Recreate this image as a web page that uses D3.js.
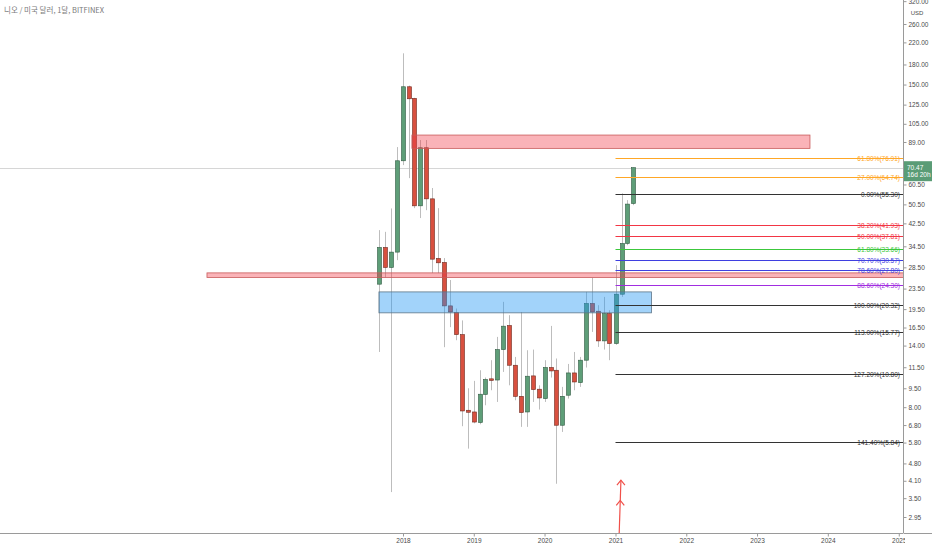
<!DOCTYPE html>
<html>
<head>
<meta charset="utf-8">
<script src="https://cdn.jsdelivr.net/npm/d3@7/dist/d3.min.js"></script>
<style>
  html, body { margin: 0; padding: 0; background: #fff; overflow: hidden; }
  svg { display: block; font-family: 'Liberation Sans', Arial, sans-serif; }
</style>
</head>
<body>
<svg id="graph" width="932" height="550"></svg>
<script>
const title = '니오 / 미국 달러, 1달, BITFINEX';

// monthly candles, Sep 2017 .. Apr 2021
const months = [
  '2017-09', '2017-10', '2017-11', '2017-12',
  '2018-01', '2018-02', '2018-03', '2018-04', '2018-05', '2018-06',
  '2018-07', '2018-08', '2018-09', '2018-10', '2018-11', '2018-12',
  '2019-01', '2019-02', '2019-03', '2019-04', '2019-05', '2019-06',
  '2019-07', '2019-08', '2019-09', '2019-10', '2019-11', '2019-12',
  '2020-01', '2020-02', '2020-03', '2020-04', '2020-05', '2020-06',
  '2020-07', '2020-08', '2020-09', '2020-10', '2020-11', '2020-12',
  '2021-01', '2021-02', '2021-03', '2021-04',
];
const opens = [
  24.46, 34.14, 28.47, 32.73,
  75.04, 147.0, 132.3, 49.84, 84.45, 53.1,
  30.9, 29.8, 20.08, 18.9, 15.47, 7.78,
  7.66, 6.96, 8.98, 10.35, 10.24, 13.5,
  16.8, 11.71, 8.83, 7.66, 10.63, 9.42,
  8.65, 11.47, 11.19, 6.79, 8.92, 10.92,
  10.0, 12.26, 20.52, 19.13, 14.61, 18.74,
  14.27, 22.33, 35.4, 50.9,
];
const highs = [
  39.97, 39.35, 48.67, 85.0,
  199.2, 148.5, 133.0, 90.6, 90.6, 58.6,
  48.8, 31.0, 25.4, 19.6, 17.6, 9.5,
  10.16, 11.19, 10.47, 12.26, 15.15, 20.83,
  18.45, 12.63, 19.0, 13.42, 13.5, 9.76,
  12.26, 16.74, 12.45, 9.62, 11.85, 13.21,
  12.63, 22.8, 25.9, 20.2, 21.79, 19.3,
  29.07, 55.8, 52.5, 70.6,
];
const lows = [
  13.21, 26.0, 3.70, 30.42,
  72.15, 64.1, 48.8, 44.6, 47.9, 27.05,
  27.05, 13.8, 16.55, 14.7, 6.73, 5.49,
  6.91, 6.85, 8.14, 9.33, 8.39, 11.02,
  9.76, 8.52, 6.69, 6.69, 8.39, 7.83,
  8.39, 10.47, 3.99, 6.39, 8.65, 9.33,
  9.62, 11.47, 15.85, 13.83, 13.5, 12.26,
  14.1, 21.79, 34.86, 50.15,
];
const closes = [
  34.14, 28.47, 32.73, 75.04,
  147.0, 131.8, 49.84, 84.45, 53.1, 30.7,
  29.7, 20.08, 19.0, 15.47, 7.73, 7.64,
  6.99, 9.0, 10.29, 10.2, 13.5, 16.7,
  11.71, 8.83, 7.62, 10.6, 9.39, 8.70,
  11.47, 11.12, 6.79, 8.83, 10.92, 10.06,
  12.26, 20.52, 19.0, 14.61, 18.74, 14.27,
  22.33, 35.4, 50.63, 70.47,
];
const lastPrice = 70.47;
const countdown = '16d 20h';

const priceTicks = [
  320, 260, 220, 180, 150, 125, 105, 89, 60.5, 50.5, 42.5, 34.5, 28.5,
  23.5, 19.5, 16.5, 14, 11.5, 9.5, 8, 6.8, 5.8, 4.8, 4.1, 3.5, 2.95,
];
const yearTicks = [2018, 2019, 2020, 2021, 2022, 2023, 2024, 2025];

// drawn zones: [start, end, top price, bottom price]
const zoneStarts = ['2018-02-16', '2015-03-27', '2017-08-30'];
const zoneEnds = ['2023-10-01', '2026-06-01', '2021-07-06'];
const zoneTops = [94.8, 27.1, 22.8];
const zoneBottoms = [84.0, 26.0, 18.85];
const zoneKinds = ['red', 'red', 'blue'];

// fib retracement from Jan 2021
const fibStart = '2021-01-01';
const fibLevels = [
  '61.80', '27.00', '0.00', '38.20', '50.00', '61.80', '70.70',
  '78.60', '88.60', '100.00', '113.00', '127.20', '141.40',
];
const fibPrices = [
  76.91, 64.74, 55.30, 41.93, 37.81, 33.66, 30.57,
  27.80, 24.30, 20.32, 15.77, 10.80, 5.84,
];
const fibColors = [
  '#ffa726', '#ffa726', '#333333', '#f23645', '#f23645', '#3cc83c', '#3f3fe0',
  '#3f3fe0', '#a12ee0', '#333333', '#333333', '#333333', '#333333',
];

// arrow drawing: tail, tip, and a second head
const arrowDates = ['2021-01-20', '2021-01-29'];
const arrowPrices = [2.54, 4.12];
const arrowHeadPrices = [4.12, 3.43];

const W = 932;
const H = 550;
const plotRight = 903;
const plotBottom = 533;

const parseMonth = d3.timeParse('%Y-%m');
const parseDay = d3.timeParse('%Y-%m-%d');

const svg = d3.select('#graph');

const xScale = d3
  .scaleTime()
  .domain([parseMonth('2018-01'), parseMonth('2021-01')])
  .range([403, 615.5]);

const yScale = d3.scaleLog().domain([260, 2.95]).range([24, 517]);

svg.append('rect').attr('width', W).attr('height', H).attr('fill', '#fff');

svg
  .append('clipPath')
  .attr('id', 'plotclip')
  .append('rect')
  .attr('width', plotRight)
  .attr('height', plotBottom);

const plot = svg.append('g').attr('clip-path', 'url(#plotclip)');

// NOTE: last price line sits under everything
plot
  .append('line')
  .attr('x1', 0)
  .attr('x2', plotRight)
  .attr('y1', Math.round(yScale(lastPrice)) + 0.5)
  .attr('y2', Math.round(yScale(lastPrice)) + 0.5)
  .attr('stroke', '#d6d6d6')
  .attr('stroke-width', 1);

const candles = months.map((m, i) => ({
  date: parseMonth(m),
  open: opens[i],
  high: highs[i],
  low: lows[i],
  close: closes[i],
}));

const candleG = plot.append('g');

candleG
  .selectAll('.wick')
  .data(candles)
  .enter()
  .append('line')
  .attr('class', 'wick')
  .attr('x1', (d) => Math.round(xScale(d.date)) + 0.5)
  .attr('x2', (d) => Math.round(xScale(d.date)) + 0.5)
  .attr('y1', (d) => yScale(d.high))
  .attr('y2', (d) => yScale(d.low))
  .attr('stroke', '#bdbdbd')
  .attr('stroke-width', 1);

candleG
  .selectAll('.body')
  .data(candles)
  .enter()
  .append('rect')
  .attr('class', 'body')
  .attr('x', (d) => Math.round(xScale(d.date)) - 1.5)
  .attr('width', 4)
  .attr('y', (d) => yScale(Math.max(d.open, d.close)))
  .attr('height', (d) =>
    Math.max(1.5, yScale(Math.min(d.open, d.close)) - yScale(Math.max(d.open, d.close)))
  )
  .attr('fill', (d) => (d.close >= d.open ? '#5e9e78' : '#d8503f'))
  .attr('stroke', (d) => (d.close >= d.open ? '#2f5a41' : '#6e2a20'))
  .attr('stroke-width', 0.6);

// zones on top of candles, semi transparent
const zoneG = plot.append('g');
zoneStarts.forEach((s, i) => {
  const x0 = xScale(parseDay(s));
  const x1 = xScale(parseDay(zoneEnds[i]));
  const y0 = yScale(zoneTops[i]);
  const y1 = yScale(zoneBottoms[i]);
  const isBlue = zoneKinds[i] === 'blue';
  zoneG
    .append('rect')
    .attr('x', x0)
    .attr('y', y0)
    .attr('width', x1 - x0)
    .attr('height', y1 - y0)
    .attr('fill', isBlue ? 'rgba(33,150,243,0.42)' : 'rgba(242,54,69,0.38)')
    .attr('stroke', isBlue ? '#5f7688' : '#c85a5a')
    .attr('stroke-width', 0.8);
});

// fib levels
const fibG = plot.append('g');
const fibX = xScale(parseDay(fibStart));
fibPrices.forEach((p, i) => {
  const y = Math.round(yScale(p)) + 0.5;
  fibG
    .append('line')
    .attr('x1', fibX)
    .attr('x2', plotRight)
    .attr('y1', y)
    .attr('y2', y)
    .attr('stroke', fibColors[i])
    .attr('stroke-width', 1);
  fibG
    .append('text')
    .attr('x', 900)
    .attr('y', y)
    .attr('dy', '0.35em')
    .attr('text-anchor', 'end')
    .attr('font-size', 6.5)
    .attr('fill', fibColors[i])
    .text(fibLevels[i] + '%(' + p.toFixed(2) + ')');
});

// red arrow
const arrowG = plot.append('g').attr('stroke', '#f0504a').attr('fill', 'none');
const ax0 = xScale(parseDay(arrowDates[0]));
const ax1 = xScale(parseDay(arrowDates[1]));
const ay0 = yScale(arrowPrices[0]);
const ay1 = yScale(arrowPrices[1]);
arrowG
  .append('line')
  .attr('x1', ax0)
  .attr('y1', ay0)
  .attr('x2', ax1)
  .attr('y2', ay1)
  .attr('stroke-width', 1.2);
arrowHeadPrices.forEach((p) => {
  const hy = yScale(p);
  const hx = ax0 + ((ax1 - ax0) * (ay0 - hy)) / (ay0 - ay1);
  arrowG
    .append('polyline')
    .attr('points', [[hx - 4, hy + 5], [hx, hy], [hx + 4, hy + 5]].join(' '))
    .attr('stroke-width', 1.2);
});

// title
svg
  .append('text')
  .attr('x', 4)
  .attr('y', 13)
  .attr('font-family', "'Noto Sans CJK KR', 'Liberation Sans', sans-serif")
  .attr('font-size', 7.5)
  .attr('fill', '#7a7a7a')
  .text(title);

// right price axis
const yAxis = d3
  .axisRight(yScale)
  .tickValues(priceTicks)
  .tickSize(3)
  .tickPadding(2)
  .tickFormat(d3.format('.2f'));

const axisY = svg
  .append('g')
  .attr('transform', 'translate(' + (plotRight + 0.5) + ',0)')
  .call(yAxis);
axisY.select('.domain').attr('stroke', '#9a9a9a').attr('d', 'M0,0V' + plotBottom);
axisY.selectAll('.tick line').attr('stroke', '#9a9a9a');
axisY
  .selectAll('.tick text')
  .attr('font-size', 6.5)
  .attr('fill', '#4a4a4a')
  .attr('font-family', "'Liberation Sans', Arial, sans-serif");

svg
  .append('text')
  .attr('x', 917)
  .attr('y', 15)
  .attr('text-anchor', 'middle')
  .attr('font-size', 6)
  .attr('fill', '#4a4a4a')
  .text('USD');

// last price marker
const py = yScale(lastPrice);
svg
  .append('rect')
  .attr('x', plotRight + 1)
  .attr('y', py - 6.5)
  .attr('width', W - plotRight - 1)
  .attr('height', 20)
  .attr('fill', '#5a9c76');
svg
  .append('text')
  .attr('x', plotRight + 4)
  .attr('y', py + 2.3)
  .attr('font-size', 6.5)
  .attr('fill', '#fff')
  .text(lastPrice.toFixed(2));
svg
  .append('text')
  .attr('x', plotRight + 4)
  .attr('y', py + 9.5)
  .attr('font-size', 6.5)
  .attr('fill', '#fff')
  .text(countdown);

// bottom time axis
svg
  .append('clipPath')
  .attr('id', 'xclip')
  .append('rect')
  .attr('width', plotRight + 2)
  .attr('height', H);

const xAxis = d3
  .axisBottom(xScale)
  .tickValues(yearTicks.map((y) => new Date(y, 0, 1)))
  .tickSize(3)
  .tickPadding(2)
  .tickFormat(d3.timeFormat('%Y'));

const axisX = svg
  .append('g')
  .attr('clip-path', 'url(#xclip)')
  .append('g')
  .attr('transform', 'translate(0,' + (plotBottom + 0.5) + ')')
  .call(xAxis);
axisX.select('.domain').attr('stroke', '#9a9a9a').attr('d', 'M0,0H' + plotRight);
axisX.selectAll('.tick line').attr('stroke', '#9a9a9a');
axisX
  .selectAll('.tick text')
  .attr('font-size', 6.5)
  .attr('fill', '#4a4a4a')
  .attr('font-family', "'Liberation Sans', Arial, sans-serif");

svg
  .append('line')
  .attr('x1', plotRight + 0.5)
  .attr('x2', W)
  .attr('y1', plotBottom + 0.5)
  .attr('y2', plotBottom + 0.5)
  .attr('stroke', '#9a9a9a');
</script>
</body>
</html>
